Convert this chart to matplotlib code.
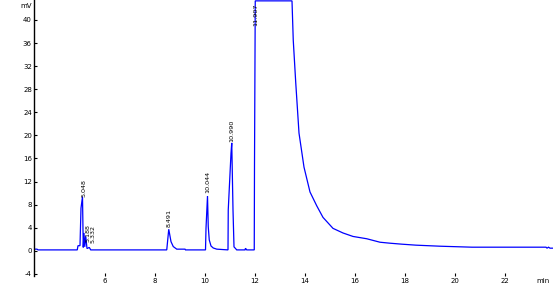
import matplotlib
matplotlib.use("Agg")
import matplotlib.pyplot as plt

# Chromatogram trace (time in min, signal in mV);
# the main peak is saturated at the top of the display (43.3 mV)
times = [3.16, 3.28, 3.32, 4.89, 4.92, 5.00, 5.04, 5.10, 5.13, 5.16, 5.19, 5.23, 5.28,
         5.37, 5.43, 8.47, 8.55, 8.64, 8.73, 8.87, 9.20, 9.22, 10.02, 10.04, 10.10, 10.13,
         10.17, 10.24, 10.33, 10.47, 10.92, 10.93, 11.04, 11.07, 11.12, 11.16, 11.27, 11.60,
         11.62, 11.67, 11.97, 11.98, 12.01, 13.48, 13.53, 13.63, 13.76, 13.96, 14.20, 14.47,
         14.72, 15.12, 15.52, 15.92, 16.47, 17.00, 17.40, 17.88, 18.44, 19.40, 20.68, 23.64,
         23.68, 23.74, 23.80, 23.92]
signal = [0.30, 0.30, 0.17, 0.17, 0.90, 0.90, 7.4, 9.4, 0.6, 3.1, 0.7, 2.5, 0.4,
          0.6, 0.17, 0.17, 3.75, 1.6, 0.75, 0.30, 0.30, 0.17, 0.17, 3.9, 9.5, 4.2,
          1.9, 0.85, 0.5, 0.30, 0.17, 7.1, 16.9, 18.7, 7.1, 0.7, 0.17, 0.17,
          0.45, 0.17, 0.17, 14.8, 43.3, 43.3, 36.5, 29.1, 20.4, 14.5, 10.2, 7.8,
          5.8, 3.9, 3.1, 2.5, 2.1, 1.5, 1.33, 1.16, 0.99, 0.81, 0.64, 0.64,
          0.47, 0.64, 0.47, 0.47]

# Peak labels (retention times) and where they sit
peak_labels = ["5.048", "5.188", "5.332", "8.491", "10.044", "10.990", "11.907"]
label_t = [5.07, 5.24, 5.42, 8.47, 10.02, 10.98, 11.91]
label_y = [9.35, 1.6, 1.3, 4.2, 10.0, 18.9, 39.0]

xticks = [6, 8, 10, 12, 14, 16, 18, 20, 22]
yticks = [-4, 0, 4, 8, 12, 16, 20, 24, 28, 32, 36, 40]

fig = plt.figure(figsize=(5.53, 2.87), dpi=100)
ax = fig.add_axes([34 / 553, 11 / 287, 519 / 553, 276 / 287])
ax.plot(times, signal, color=(0, 0, 1), lw=0.9, solid_joinstyle="miter")
ax.set_xlim(3.16, 23.92)
ax.set_ylim(-4.35, 43.45)
ax.set_xticks(xticks)
ax.set_yticks(yticks)
ax.set_xticklabels([str(v) for v in xticks])
ax.set_yticklabels([str(v) for v in yticks])
for s in ["top", "right", "bottom"]:
    ax.spines[s].set_visible(False)
ax.spines["left"].set_linewidth(1.0)
ax.tick_params(direction="in", length=2.5, width=0.8, labelsize=5, pad=1.5, colors="black")

for lab, t, y in zip(peak_labels, label_t, label_y):
    ax.text(t, y, lab, rotation=90, ha="left", va="bottom", fontsize=4.6, color="black")

fig.text(26 / 553, 1 - 6 / 287, "mV", fontsize=5, ha="center", va="center")
fig.text(543 / 553, 1 - 281 / 287, "min", fontsize=5, ha="center", va="center")

fig.savefig("out.png", dpi=100)
